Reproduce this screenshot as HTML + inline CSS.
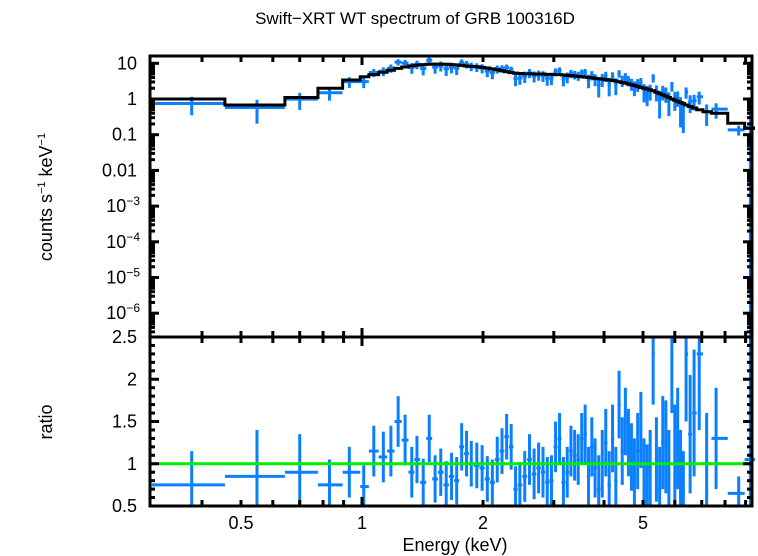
<!DOCTYPE html>
<html><head><meta charset="utf-8"><style>
html,body{margin:0;padding:0;background:#fff;overflow:hidden;width:758px;height:556px}
svg{display:block;font-family:"Liberation Sans",sans-serif}
</style></head><body>
<svg id="c" width="758" height="556" viewBox="0 0 758 556" xmlns="http://www.w3.org/2000/svg">
<text x="415" y="24" font-size="17" text-anchor="middle">Swift−XRT WT spectrum of GRB 100316D</text>
<text transform="translate(52,197) rotate(-90)" font-size="18" text-anchor="middle">counts s<tspan dy="-7" font-size="11">−1</tspan><tspan dy="7"> keV</tspan><tspan dy="-7" font-size="11">−1</tspan></text>
<text transform="translate(52,422) rotate(-90)" font-size="18" text-anchor="middle">ratio</text>
<text x="455" y="551" font-size="18" text-anchor="middle">Energy (keV)</text>
<g id="marks"></g>
<g id="axes"></g>
</svg>
<script>
const lowEnergy=[0.377,0.548,0.70,0.83,0.93,1.01];
const lowLo=[0.3,0.456,0.643,0.777,0.895,0.99];
const lowHi=[0.456,0.643,0.777,0.895,0.99,1.04];
const lowRatio=[0.75,0.85,0.9,0.75,0.9,0.73];
const lowErr=[0.4,0.55,0.45,0.3,0.3,0.25];
const lowModel=[1.0,0.68,1.1,2.0,3.4,4.2];
const energy=[1.07,1.13,1.18,1.23,1.28,1.33,1.37,1.42,1.47,1.52,1.57,1.62,1.67,1.72,1.77,
1.82,1.87,1.93,1.99,2.05,2.11,2.17,2.23,2.29,2.35,2.41,2.47,
2.54,2.61,2.68,2.75,2.82,2.89,2.96,3.03,3.10,3.17,3.24,3.31,3.38,3.45,3.52,
3.59,3.66,3.73,3.80,
3.88,3.96,4.04,4.12,4.20,4.28,4.36,4.44,4.52,4.60,4.68,4.76,
4.85,4.94,5.03,5.12,5.21,5.30,
5.40,5.50,5.60,5.70,5.80,5.90,6.00,6.10,6.20,6.30,6.40,
6.55,6.70,6.90,7.20,7.60,8.65,9.25];
const ratio=[1.15,1.08,1.15,1.5,1.28,0.9,1.05,0.78,1.3,0.82,0.9,0.75,0.85,0.8,1.2,
1.12,1.0,0.98,0.95,0.82,0.78,1.05,1.15,1.32,1.2,0.7,0.75,
0.85,1.05,0.88,0.95,0.9,0.78,0.8,1.2,1.3,0.78,0.9,1.15,1.1,1.05,1.3,
1.35,0.85,1.2,0.95,
0.7,1.0,1.25,0.75,1.3,0.8,1.7,1.15,1.5,1.25,1.08,0.9,
1.15,1.4,0.85,0.78,0.95,2.3,
1.05,0.7,1.25,1.2,0.85,2.3,1.1,1.3,0.8,0.65,2.3,
1.35,1.6,2.3,1.0,1.3,0.65,1.05];
const ratioErr=[0.3,0.3,0.3,0.3,0.3,0.3,0.28,0.28,0.28,0.28,0.28,0.28,0.28,0.28,0.28,
0.27,0.27,0.27,0.27,0.27,0.27,0.27,0.27,0.27,0.27,0.27,0.27,
0.3,0.3,0.3,0.3,0.3,0.3,0.3,0.3,0.3,0.3,0.3,0.3,0.3,0.3,0.3,
0.35,0.35,0.35,0.35,
0.4,0.4,0.4,0.4,0.4,0.4,0.4,0.4,0.4,0.4,0.4,0.4,
0.45,0.45,0.45,0.45,0.45,0.6,
0.5,0.5,0.55,0.55,0.55,0.7,0.6,0.6,0.6,0.5,0.8,
0.7,0.75,0.9,0.6,0.6,0.2,2.0];
const model=[4.8,5.6,6.4,7.2,7.9,8.5,8.9,9.2,9.4,9.5,9.5,9.4,9.2,9.0,8.7,
8.4,8.2,8.0,7.7,7.4,7.0,6.6,6.2,5.8,5.5,5.3,5.2,
5.1,5.1,5.0,5.0,5.0,4.9,4.9,4.8,4.8,4.7,4.6,4.5,4.4,4.3,4.2,
4.1,4.0,3.9,3.8,
3.7,3.6,3.5,3.4,3.3,3.2,3.05,2.9,2.8,2.65,2.5,2.4,
2.25,2.1,2.0,1.9,1.8,1.7,
1.55,1.42,1.3,1.2,1.1,1.0,0.93,0.86,0.8,0.74,0.68,
0.62,0.56,0.5,0.44,0.4,0.21,0.15];
const xTickLabels=[0.5,1,2,5];
const yTopLabels=[10,1,0.1,0.01,1e-3,1e-4,1e-5,1e-6];
const yRatioLabels=[0.5,1,1.5,2,2.5];

const L=150,R=752,T=56,M=337,B=506;
const X_ONE=362,PX_DEC=402;
const x=e=>X_ONE+Math.log10(e)*PX_DEC;
const yTop=v=>99-Math.log10(v)*35.7;
const yR=r=>B-(r-0.5)*84.5;
const NS="http://www.w3.org/2000/svg";
const marks=document.getElementById('marks'),axes=document.getElementById('axes');
function mk(tag,attrs,parent){const el=document.createElementNS(NS,tag);for(const k in attrs)el.setAttribute(k,attrs[k]);parent.appendChild(el);return el;}
const cp=document.createElementNS(NS,'clipPath');cp.setAttribute('id','clipTop');mk('rect',{x:L,y:T,width:R-L+3,height:M-T},cp);
const cp2=document.createElementNS(NS,'clipPath');cp2.setAttribute('id','clipBot');mk('rect',{x:L,y:M,width:R-L+3,height:B-M},cp2);
const defs=mk('defs',{},document.getElementById('c'));defs.appendChild(cp);defs.appendChild(cp2);

const E=[],LO=[],HI=[],RA=[],ER=[],MO=[];
for(let i=0;i<lowEnergy.length;i++){E.push(lowEnergy[i]);LO.push(lowLo[i]);HI.push(lowHi[i]);RA.push(lowRatio[i]);ER.push(lowErr[i]);MO.push(lowModel[i]);}
for(let i=0;i<energy.length;i++){
  const prev=i===0?lowHi[lowHi.length-1]:(energy[i-1]+energy[i])/2;
  const next=i===energy.length-1?energy[i]+(energy[i]-prev):(energy[i]+energy[i+1])/2;
  E.push(energy[i]);LO.push(prev);HI.push(next);RA.push(ratio[i]);ER.push(ratioErr[i]);MO.push(model[i]);
}
const gTop=mk('g',{'clip-path':'url(#clipTop)'},marks);
const gBot=mk('g',{'clip-path':'url(#clipBot)'},marks);
const blue='#0a80ff';
for(let i=0;i<E.length;i++){
  const cnt=MO[i]*RA[i],cerr=MO[i]*ER[i];
  const g=mk('g',{stroke:blue,'stroke-width':3},gTop);
  
  
  mk('line',{x1:x(LO[i]),x2:x(HI[i]),y1:yTop(cnt),y2:yTop(cnt)},g);
  mk('line',{x1:x(E[i]),x2:x(E[i]),y1:yTop(cnt+cerr),y2:yTop(Math.max(cnt-cerr,1e-8))},g);
  const h=mk('g',{stroke:blue,'stroke-width':3},gBot);
  
  
  mk('line',{x1:x(LO[i]),x2:x(HI[i]),y1:yR(RA[i]),y2:yR(RA[i])},h);
  mk('line',{x1:x(E[i]),x2:x(E[i]),y1:yR(RA[i]+ER[i]),y2:yR(RA[i]-ER[i])},h);
}
let d='';
for(let i=0;i<E.length;i++){d+=(i===0?'M':'L')+x(LO[i])+','+yTop(MO[i])+'L'+x(HI[i])+','+yTop(MO[i]);}
const mp=mk('path',{d:d,fill:'none',stroke:'#000','stroke-width':3},gTop);


const one=mk('line',{x1:L,x2:R,y1:yR(1),y2:yR(1),stroke:'#00ee00','stroke-width':3},marks);



const fr=mk('rect',{x:L,y:T,width:R-L,height:B-T,fill:'none',stroke:'#000','stroke-width':3},axes);


mk('line',{x1:L,x2:R,y1:M,y2:M,stroke:'#000','stroke-width':3},axes);
const minorX=[0.4,0.5,0.6,0.7,0.8,0.9,1,2,3,4,5,6,7,8,9];
minorX.forEach(v=>{const xx=x(v);if(xx>R)return;const len=(v===1)?9:6;
  mk('line',{x1:xx,x2:xx,y1:T,y2:T+len,stroke:'#000','stroke-width':3},axes);
  mk('line',{x1:xx,x2:xx,y1:M-len,y2:M+len,stroke:'#000','stroke-width':3},axes);
  mk('line',{x1:xx,x2:xx,y1:B-len,y2:B,stroke:'#000','stroke-width':3},axes);});
xTickLabels.forEach(v=>{const t=mk('text',{x:x(v),y:529,'font-size':18,'text-anchor':'middle'},axes);t.textContent=String(v);
 
 });
for(let p=-7;p<=1;p++){for(let k=1;k<=9;k++){const v=k*Math.pow(10,p);const yy=yTop(v);if(yy<T||yy>M)continue;const len=k===1?9:5;
 mk('line',{x1:L,x2:L+len,y1:yy,y2:yy,stroke:'#000','stroke-width':3},axes);
 mk('line',{x1:R-len,x2:R,y1:yy,y2:yy,stroke:'#000','stroke-width':3},axes);}}
yTopLabels.forEach(v=>{const yy=yTop(v)+6;const t=mk('text',{x:137,y:yy,'font-size':18,'text-anchor':'end'},axes);
 
 
 if(v>=0.01)t.textContent=String(v);else{const e=Math.round(Math.log10(v));t.textContent='10';const s=document.createElementNS(NS,'tspan');s.setAttribute('dy','-7');s.setAttribute('font-size','12');s.textContent='−'+(-e);t.appendChild(s);t.setAttribute('x',140);}});
for(let r=0.5;r<=2.51;r+=0.1){const yy=yR(r);const major=Math.abs(r*2-Math.round(r*2))<0.01;const len=major?9:5;
 mk('line',{x1:L,x2:L+len,y1:yy,y2:yy,stroke:'#000','stroke-width':3},axes);
 mk('line',{x1:R-len,x2:R,y1:yy,y2:yy,stroke:'#000','stroke-width':3},axes);}
yRatioLabels.forEach(v=>{const t=mk('text',{x:137,y:yR(v)+6,'font-size':18,'text-anchor':'end'},axes);t.textContent=String(v);
 
 });
</script>
</body></html>
